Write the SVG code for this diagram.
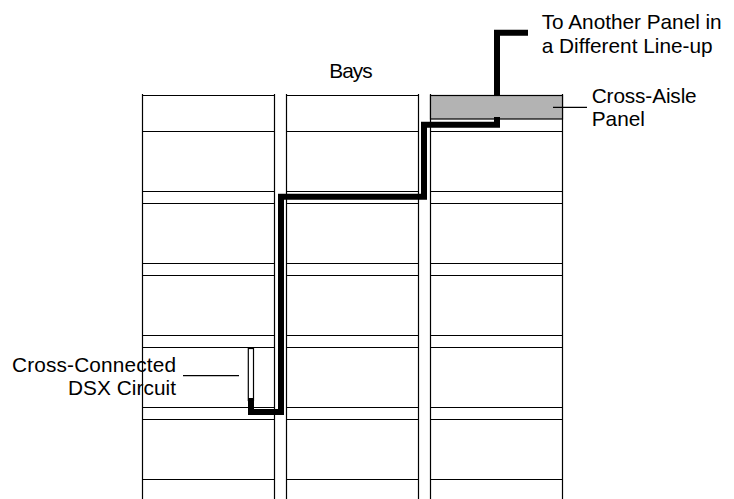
<svg xmlns="http://www.w3.org/2000/svg" width="734" height="499" viewBox="0 0 734 499">
<style>
.ln{stroke:#000;stroke-width:1.2;fill:none}
.cable{stroke:#000;stroke-width:6;fill:none;stroke-linejoin:miter;stroke-linecap:butt}
.t{font-family:"Liberation Sans",Arial,sans-serif;font-size:20.8px;fill:#000}
</style>
<defs>
<g id="bayShape">
<path class="ln" d="M0,94V499M132,94V499M0,95.5H132M0,131.5H132M0,191.5H132M0,203.5H132M0,263.5H132M0,275.5H132M0,335.5H132M0,347.5H132M0,407.5H132M0,419.5H132M0,479.5H132"/>
</g>
</defs>
<rect width="734" height="499" fill="#fff"/>
<g id="bay1"><use href="#bayShape" x="142.5"/></g>
<g id="bay2"><use href="#bayShape" x="286.5"/></g>
<g id="bay3"><use href="#bayShape" x="430.5"/></g>
<g id="connectors">
<path class="cable" d="M528,32.8H497V96"/>
</g>
<g id="cross-aisle-panel">
<rect x="430.5" y="95.5" width="132" height="23.5" fill="#b3b3b3" stroke="#000" stroke-width="1.2"/>
</g>
<g id="dsx-circuit">
<rect x="248.3" y="348.5" width="5.2" height="52" fill="#fff" stroke="#000" stroke-width="1.2"/>
</g>
<g id="cable">
<path class="cable" d="M497,117V124.7H424V196.7H281V412H251V398"/>
</g>
<g id="leaders">
<path class="ln" d="M553,107.3H587"/>
<path class="ln" d="M183,375.7H239"/>
</g>
<g id="labels">
<text class="t" x="329.3" y="78.3" textLength="43.4">Bays</text>
<text class="t" x="541.7" y="29.3" textLength="180">To Another Panel in</text>
<text class="t" x="541.7" y="52.7" textLength="171">a Different Line-up</text>
<text class="t" x="591.7" y="103.3" textLength="105">Cross-Aisle</text>
<text class="t" x="591.7" y="126">Panel</text>
<text class="t" x="12" y="371.7" textLength="164">Cross-Connected</text>
<text class="t" x="68" y="394.5" textLength="108">DSX Circuit</text>
</g>
</svg>
